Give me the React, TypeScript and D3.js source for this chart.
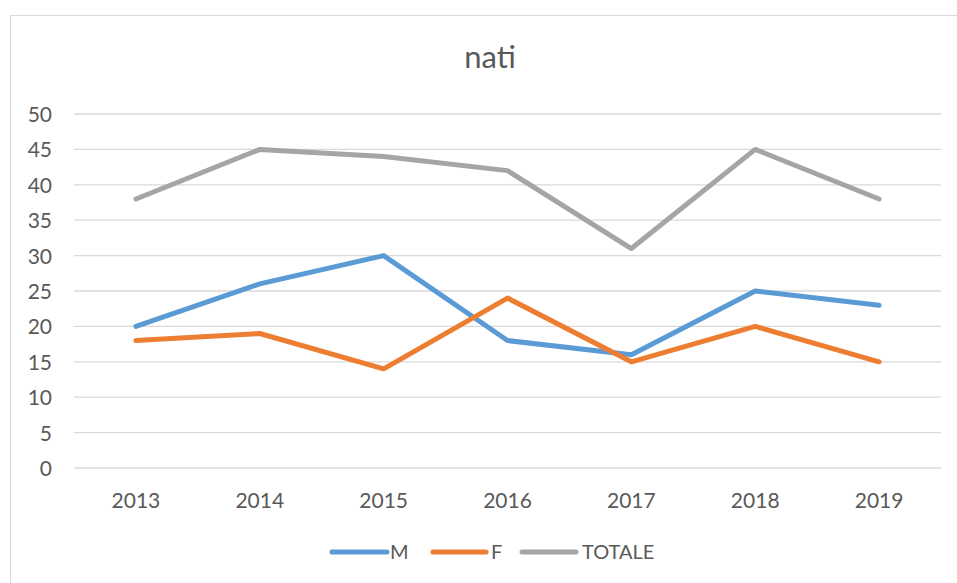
import React from 'react';
import * as d3 from 'd3';

const years = ['2013', '2014', '2015', '2016', '2017', '2018', '2019'];
const maschi = [20, 26, 30, 18, 16, 25, 23];
const femmine = [18, 19, 14, 24, 15, 20, 15];
const totale = [38, 45, 44, 42, 31, 45, 38];
const yTicks = [0, 5, 10, 15, 20, 25, 30, 35, 40, 45, 50];

const series = [
  { name: 'M', values: maschi, color: '#5B9BD5' },
  { name: 'F', values: femmine, color: '#ED7D31' },
  { name: 'TOTALE', values: totale, color: '#A5A5A5' },
];

const FONT = 'Lato, "Open Sans", sans-serif';

export default function App() {
  const width = 957;
  const height = 583;
  const plot = { left: 74, right: 941, top: 114, bottom: 468 };

  const x = d3.scaleBand<string>().domain(years).range([plot.left, plot.right]);
  const y = d3.scaleLinear().domain([0, 50]).range([plot.bottom, plot.top]);

  const line = d3
    .line<number>()
    .x((_, i) => (x(years[i]) ?? 0) + x.bandwidth() / 2)
    .y(d => y(d));

  const legendPos = [
    { x1: 332, x2: 387, tx: 390 },
    { x1: 433, x2: 486, tx: 491 },
    { x1: 522, x2: 576, tx: 582 },
  ];

  return (
    <svg
      width={width}
      height={height}
      style={{ position: 'absolute', left: 0, top: 0, fontFamily: FONT }}
    >
      <rect x={0} y={0} width={width} height={height} fill="#fff" />
      <rect x={10.5} y={15.5} width={960} height={600} fill="none" stroke="#D9D9D9" strokeWidth={1} />

      <text x={490} y={68} textAnchor="middle" fontSize={31} fill="#595959">
        nati
      </text>

      {yTicks.map(t => (
        <g key={t}>
          <line x1={plot.left} x2={plot.right} y1={y(t)} y2={y(t)} stroke="#D9D9D9" strokeWidth={1.3} />
          <text x={52} y={y(t) + 8} textAnchor="end" fontSize={21} fill="#595959">
            {t}
          </text>
        </g>
      ))}

      {years.map(yr => (
        <text
          key={yr}
          x={(x(yr) ?? 0) + x.bandwidth() / 2}
          y={508}
          textAnchor="middle"
          fontSize={21}
          fill="#595959"
        >
          {yr}
        </text>
      ))}

      {series.map(s => (
        <path
          key={s.name}
          d={line(s.values) ?? ''}
          fill="none"
          stroke={s.color}
          strokeWidth={5}
          strokeLinejoin="round"
          strokeLinecap="round"
        />
      ))}

      {series.map((s, i) => (
        <g key={s.name}>
          <line
            x1={legendPos[i].x1}
            x2={legendPos[i].x2}
            y1={552}
            y2={552}
            stroke={s.color}
            strokeWidth={5}
            strokeLinecap="round"
          />
          <text x={legendPos[i].tx} y={559} fontSize={20} fill="#595959">
            {s.name}
          </text>
        </g>
      ))}
    </svg>
  );
}
